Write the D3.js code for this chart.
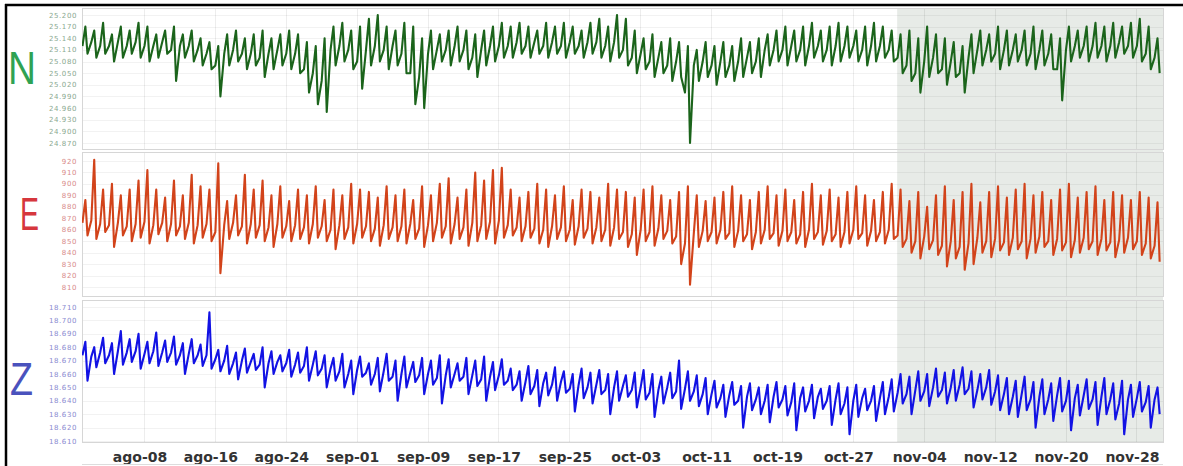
<!DOCTYPE html>
<html>
<head>
<meta charset="utf-8">
<script src="https://cdn.jsdelivr.net/npm/d3@7"></script>
<style>
  body { margin: 0; background: #fff; }
  svg { display: block; }
</style>
</head>
<body>
<script>
var width = 1183;
var height = 466;

// time span (one level, one high and one low reading per day, aug-01 .. nov-30)
var startDay = Date.UTC(2012, 7, 1);
var endDay = Date.UTC(2012, 11, 1);
var shadeFrom = Date.UTC(2012, 10, 1);
var xTickLabels = ["ago-08", "ago-16", "ago-24", "sep-01", "sep-09", "sep-17", "sep-25",
    "oct-03", "oct-11", "oct-19", "oct-27", "nov-04", "nov-12", "nov-20", "nov-28"];

// y tick labels for each component
var nTicks = [25.200, 25.170, 25.140, 25.110, 25.080, 25.050, 25.020, 24.990, 24.960, 24.930, 24.900, 24.870];
var eTicks = [920, 910, 900, 890, 880, 870, 860, 850, 840, 830, 820, 810];
var zTicks = [18.710, 18.700, 18.690, 18.680, 18.670, 18.660, 18.650, 18.640, 18.630, 18.620, 18.610];

// N component: daily level / high / low
var nBase = [25.12,25.13,25.12,25.12,25.13,25.12,25.13,25.12,25.12,25.13,25.11,25.12,25.12,25.11,
    25.10,25.07,
    25.10,25.11,25.10,25.10,25.09,25.10,25.11,25.10,25.10,
    25.06,25.05,25.03,
    25.11,25.12,25.11,25.08,25.11,25.12,25.11,25.12,25.10,25.05,25.04,
    25.10,25.11,25.11,25.12,25.11,25.09,25.11,25.12,25.12,
    25.12,25.13,25.12,25.13,25.12,25.13,25.12,25.13,25.12,25.13,25.13,25.12,25.13,25.11,
    25.09,25.10,25.08,25.09,25.07,25.08,
    25.00,25.07,25.08,25.07,25.08,25.07,25.08,25.09,25.08,
    25.11,25.11,25.11,25.12,25.11,25.12,25.12,25.11,25.12,25.12,25.12,25.11,25.12,25.12,25.11,
    25.09,25.07,25.05,25.08,25.09,25.06,25.08,25.05,25.09,
    25.11,25.11,25.10,25.11,25.11,25.11,25.10,25.11,25.10,
    25.06,25.11,25.12,25.12,25.12,25.12,25.12,25.13,25.12,25.12,25.10,
    25.09];
var nHi = [25.17,25.16,25.18,25.15,25.17,25.16,25.18,25.17,25.15,25.16,25.17,25.15,25.16,25.14,
    25.13,25.12,
    25.15,25.16,25.14,25.15,25.16,25.14,25.15,25.16,25.15,
    25.13,25.12,25.14,
    25.17,25.18,25.16,25.17,25.19,25.20,25.17,25.16,25.18,25.17,25.14,
    25.16,25.15,25.16,25.17,25.16,25.15,25.16,25.17,25.18,
    25.17,25.18,25.17,25.16,25.18,25.17,25.18,25.17,25.16,25.18,25.19,25.17,25.20,25.19,
    25.16,25.14,25.15,25.13,25.14,25.13,
    25.12,25.11,25.13,25.12,25.13,25.12,25.14,25.13,25.14,
    25.15,25.16,25.17,25.16,25.17,25.18,25.16,25.17,25.18,25.17,25.16,25.17,25.18,25.17,25.16,
    25.15,25.16,25.14,25.17,25.15,25.14,25.13,25.12,25.15,
    25.16,25.15,25.17,25.16,25.15,25.16,25.17,25.16,25.15,
    25.14,25.17,25.16,25.17,25.18,25.17,25.18,25.17,25.18,25.19,25.17,
    25.14];
var nLo = [25.10,25.09,25.10,25.08,25.09,25.10,25.09,25.08,25.09,25.10,25.03,25.09,25.08,25.07,
    25.06,24.99,
    25.07,25.08,25.06,25.07,25.04,25.06,25.07,25.06,25.05,
    25.00,24.97,24.95,
    25.07,25.08,25.06,25.01,25.07,25.08,25.06,25.07,25.05,24.97,24.96,
    25.06,25.08,25.07,25.08,25.06,25.04,25.07,25.08,25.09,
    25.09,25.10,25.09,25.10,25.09,25.10,25.09,25.10,25.09,25.10,25.09,25.08,25.09,25.07,
    25.05,25.06,25.04,25.05,25.03,25.04,
    24.87,25.03,25.04,25.02,25.04,25.03,25.04,25.05,25.04,
    25.07,25.08,25.07,25.08,25.07,25.09,25.08,25.07,25.08,25.09,25.08,25.07,25.08,25.09,25.08,
    25.05,25.03,25.00,25.04,25.05,25.02,25.04,25.00,25.05,
    25.07,25.08,25.06,25.07,25.08,25.07,25.06,25.07,25.06,
    24.98,25.08,25.09,25.08,25.09,25.08,25.09,25.10,25.09,25.08,25.06,
    25.05];

// E component
var eBase = [866,868,865,864,866,863,865,867,864,866,865,863,866,864,
    865,858,864,866,863,865,864,862,865,863,864,
    862,865,863,860,864,862,865,863,861,864,862,
    863,865,861,864,866,863,865,862,866,864,867,868,
    864,862,863,861,860,863,862,860,863,861,862,860,862,
    858,856,860,858,861,859,854,848,857,859,
    858,860,857,859,856,858,860,857,859,858,856,860,858,859,856,858,860,857,859,858,860,
    855,852,850,854,851,846,850,845,848,853,850,852,849,853,850,852,854,850,852,849,851,853,850,852,849,851,853,850,848,846];
var eHi = [886,921,895,900,890,895,903,912,895,888,903,890,908,898,
    895,918,885,890,908,895,903,890,898,885,895,
    890,898,886,895,890,900,895,893,888,898,890,
    895,886,898,890,900,905,888,895,910,903,912,914,
    895,888,893,900,895,890,898,886,895,893,888,900,895,
    893,888,895,898,890,886,893,898,890,885,
    888,893,898,890,886,893,898,890,895,886,893,900,890,895,888,893,898,890,886,893,900,
    895,885,893,880,890,898,886,893,900,884,893,898,888,895,900,890,893,886,895,900,888,893,898,886,893,890,886,893,888,884];
var eLo = [855,852,858,845,855,850,853,848,856,850,855,852,848,853,
    850,822,852,855,848,853,850,845,853,850,852,
    848,853,850,843,852,848,853,850,846,852,850,
    848,852,845,850,853,848,852,846,850,852,848,853,
    855,850,853,848,845,852,850,847,853,848,850,846,852,
    845,838,850,846,852,848,830,812,845,850,
    848,852,845,850,843,848,852,846,850,848,845,852,847,850,845,848,852,846,850,848,852,
    845,840,835,843,838,828,835,825,830,840,836,842,838,843,835,840,845,838,842,836,840,843,838,842,836,840,843,838,835,832];

// Z component
var zBase = [18.674,18.673,18.676,18.674,18.677,18.676,18.677,18.675,18.677,18.676,18.676,18.674,18.675,18.674,
    18.674,
    18.671,18.670,18.668,18.670,18.669,18.667,18.668,18.669,18.668,18.667,18.666,18.667,18.664,
    18.664,18.662,18.660,18.663,18.661,18.660,18.662,18.658,18.660,18.661,18.659,18.660,18.657,18.659,18.660,18.658,18.659,18.656,18.658,18.659,
    18.655,18.652,18.654,18.651,18.653,18.652,18.654,18.649,18.652,18.650,18.652,18.648,18.650,18.651,18.648,18.650,18.646,18.648,18.650,18.647,18.649,18.647,18.645,
    18.645,18.642,18.644,18.640,18.643,18.641,18.640,18.643,18.641,18.639,18.642,18.640,18.643,18.640,18.641,18.638,18.640,18.642,18.640,18.642,
    18.643,18.646,18.645,18.648,18.647,18.650,18.648,18.650,18.652,18.649,18.648,18.650,18.647,18.645,
    18.643,18.645,18.641,18.643,18.641,18.644,18.640,18.642,18.644,18.641,18.643,18.641,18.638,18.641,18.642,18.639,18.641];
var zHi = [18.684,18.680,18.687,18.683,18.692,18.686,18.690,18.684,18.691,18.685,18.688,18.683,18.686,18.682,
    18.706,
    18.678,18.681,18.676,18.679,18.675,18.680,18.677,18.674,18.678,18.676,18.680,18.677,18.674,
    18.672,18.675,18.670,18.673,18.668,18.672,18.675,18.670,18.673,18.669,18.672,18.670,18.674,18.671,18.668,18.672,18.670,18.673,18.669,18.671,
    18.664,18.662,18.666,18.663,18.661,18.665,18.662,18.660,18.664,18.661,18.663,18.660,18.662,18.659,18.661,18.663,18.660,18.658,18.661,18.670,18.662,18.659,18.657,
    18.655,18.652,18.654,18.651,18.653,18.650,18.652,18.654,18.651,18.653,18.650,18.652,18.649,18.651,18.653,18.650,18.652,18.649,18.651,18.654,
    18.656,18.660,18.658,18.662,18.660,18.664,18.661,18.663,18.665,18.662,18.660,18.663,18.659,18.657,
    18.655,18.658,18.654,18.656,18.653,18.657,18.655,18.652,18.656,18.654,18.657,18.653,18.655,18.652,18.654,18.651,18.650];
var zLo = [18.655,18.665,18.668,18.660,18.667,18.669,18.664,18.668,18.666,18.669,18.667,18.660,18.668,18.666,
    18.664,
    18.662,18.660,18.656,18.661,18.663,18.650,18.660,18.662,18.658,18.661,18.655,18.659,18.650,
    18.655,18.650,18.645,18.658,18.652,18.647,18.655,18.640,18.650,18.654,18.645,18.652,18.638,18.650,18.655,18.645,18.651,18.640,18.648,18.652,
    18.648,18.640,18.645,18.636,18.644,18.640,18.646,18.632,18.642,18.638,18.645,18.630,18.640,18.643,18.635,18.641,18.628,18.638,18.642,18.634,18.640,18.636,18.630,
    18.635,18.628,18.637,18.620,18.633,18.630,18.624,18.635,18.629,18.618,18.632,18.627,18.634,18.622,18.630,18.615,18.628,18.633,18.625,18.630,
    18.632,18.638,18.630,18.640,18.636,18.643,18.638,18.640,18.645,18.635,18.641,18.637,18.633,18.630,
    18.628,18.633,18.620,18.630,18.625,18.632,18.618,18.629,18.634,18.622,18.630,18.626,18.615,18.628,18.632,18.620,18.630];

var left = 82, right = 1163;

var panels = [
    {name: "N", base: nBase, hi: nHi, lo: nLo, ticks: nTicks, fmt: d3.format(".3f"),
     top: 8, bottom: 149, tickTop: 15, tickBottom: 143,
     line: "#1b641b", tickColor: "#8aa890", letter: "#2fa253", lx: 8, ly: 84, lw: 28},
    {name: "E", base: eBase, hi: eHi, lo: eLo, ticks: eTicks, fmt: d3.format("d"),
     top: 152, bottom: 296, tickTop: 161, tickBottom: 287,
     line: "#d2431a", tickColor: "#d88a8a", letter: "#d6373d", lx: 20, ly: 230, lw: 19},
    {name: "Z", base: zBase, hi: zHi, lo: zLo, ticks: zTicks, fmt: d3.format(".3f"),
     top: 300, bottom: 442, tickTop: 307, tickBottom: 441,
     line: "#1212e4", tickColor: "#8a8ad0", letter: "#4a52bd", lx: 10, ly: 395, lw: 23}
];

var svg = d3.select("body").append("svg")
    .attr("width", width)
    .attr("height", height);

var x = d3.scaleUtc()
    .domain([new Date(startDay), new Date(endDay)])
    .range([left, right]);

var dayMs = 864e5;
var tickDates = d3.utcDay.range(new Date(Date.UTC(2012, 7, 8)), new Date(endDay), 8);

// shaded period
svg.append("rect")
    .attr("x", x(new Date(shadeFrom)))
    .attr("y", 8)
    .attr("width", right - x(new Date(shadeFrom)))
    .attr("height", 434)
    .attr("fill", "#e7ebe7");

panels.forEach(function(p, k) {
    var y = d3.scaleLinear()
        .domain([p.ticks[p.ticks.length - 1], p.ticks[0]])
        .range([p.tickBottom, p.tickTop]);

    var g = svg.append("g");

    // horizontal grid
    g.selectAll(".hgrid")
        .data(p.ticks)
        .enter().append("line")
        .attr("x1", left).attr("x2", right)
        .attr("y1", function(d) { return Math.round(y(d)) + 0.5; })
        .attr("y2", function(d) { return Math.round(y(d)) + 0.5; })
        .attr("stroke", "#000")
        .attr("stroke-opacity", 0.05);

    // vertical grid
    g.selectAll(".vgrid")
        .data(tickDates)
        .enter().append("line")
        .attr("x1", function(d) { return Math.round(x(d)) + 0.5; })
        .attr("x2", function(d) { return Math.round(x(d)) + 0.5; })
        .attr("y1", p.top).attr("y2", p.bottom)
        .attr("stroke", "#000")
        .attr("stroke-opacity", 0.07);

    // panel frame
    g.append("rect")
        .attr("x", left + 0.5).attr("y", p.top + 0.5)
        .attr("width", right - left).attr("height", p.bottom - p.top)
        .attr("fill", "none")
        .attr("stroke", "#d6d6d6");

    // y tick labels
    g.selectAll(".ytick")
        .data(p.ticks)
        .enter().append("text")
        .attr("x", 77)
        .attr("y", function(d) { return y(d) + 2.5; })
        .attr("text-anchor", "end")
        .style("font-family", "DejaVu Sans")
        .style("font-size", "7px")
        .style("letter-spacing", "0.6px")
        .attr("fill", p.tickColor)
        .text(function(d) { return p.fmt(d); });

    // component letter
    svg.append("text")
        .attr("x", p.lx)
        .attr("y", p.ly)
        .attr("textLength", p.lw)
        .attr("lengthAdjust", "spacingAndGlyphs")
        .style("font-family", "Liberation Sans")
        .style("font-size", "47px")
        .attr("fill", p.letter)
        .text(p.name);

    // series: level, then the daily spike and the daily dip
    var pts = [];
    p.base.forEach(function(v, i) {
        pts.push([startDay + (i + 0.05) * dayMs, v]);
        pts.push([startDay + (i + 0.38) * dayMs, p.hi[i]]);
        pts.push([startDay + (i + 0.62) * dayMs, p.lo[i]]);
    });

    svg.append("clipPath")
        .attr("id", "clip" + k)
        .append("rect")
        .attr("x", left).attr("y", p.top)
        .attr("width", right - left).attr("height", p.bottom - p.top);

    var line = d3.line()
        .defined(function(d) { return d[1] !== undefined; })
        .x(function(d) { return x(new Date(d[0])); })
        .y(function(d) { return y(d[1]); });

    svg.append("path")
        .datum(pts)
        .attr("clip-path", "url(#clip" + k + ")")
        .attr("fill", "none")
        .attr("stroke", p.line)
        .attr("stroke-width", 2.1)
        .attr("stroke-linejoin", "round")
        .attr("d", line);
});

// x axis labels
svg.selectAll(".xlab")
    .data(tickDates)
    .enter().append("text")
    .attr("x", function(d) { return x(d) - 4; })
    .attr("y", 462)
    .attr("text-anchor", "middle")
    .style("font-family", "DejaVu Sans")
    .style("font-weight", "bold")
    .style("font-size", "14px")
    .attr("fill", "#333")
    .text(function(d, i) { return xTickLabels[i]; });

// outer border (top and left)
svg.append("line")
    .attr("x1", 5).attr("x2", width).attr("y1", 5).attr("y2", 5)
    .attr("stroke", "#000").attr("stroke-width", 2.5);
svg.append("line")
    .attr("x1", 6).attr("x2", 6).attr("y1", 4).attr("y2", height)
    .attr("stroke", "#000").attr("stroke-width", 2.5);
svg.append("line")
    .attr("x1", left).attr("x2", right).attr("y1", 464.5).attr("y2", 464.5)
    .attr("stroke", "#ddd");
</script>
</body>
</html>
